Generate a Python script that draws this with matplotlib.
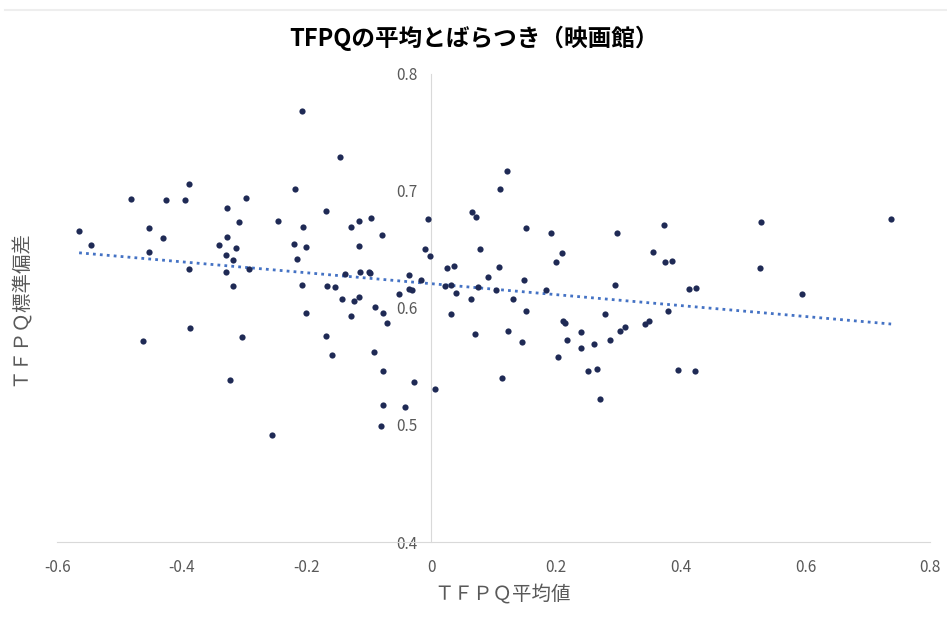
import numpy as np
import matplotlib
matplotlib.use("Agg")
import matplotlib.pyplot as plt
from matplotlib.lines import Line2D

plt.rcParams['font.family'] = ['Noto Sans CJK JP', 'DejaVu Sans']

# TFPQ mean (x) and TFPQ std (y)
tfpq_mean = [
  -0.565, -0.546, -0.482, -0.453, -0.453, -0.426, -0.430, -0.396, -0.389, -0.389,
  -0.388, -0.462, -0.328, -0.308, -0.328, -0.340, -0.314, -0.330, -0.318, -0.329,
  -0.318, -0.304, -0.323, -0.298, -0.293,
  -0.207, -0.146, -0.219, -0.246, -0.169, -0.206, -0.221, -0.201, -0.216, -0.129,
  -0.117, -0.097, -0.117, -0.079, -0.005, -0.010, -0.003, -0.208, -0.168, -0.154,
  -0.138, -0.115, -0.101, -0.099, -0.036, -0.017, -0.036, -0.031, -0.052, -0.143,
  -0.125, -0.117, -0.090, -0.077, -0.071, -0.202, -0.129, -0.169, -0.160, -0.092,
  -0.078, -0.028, 0.006, -0.078, -0.043, -0.081, -0.256,
  0.121, 0.110, 0.065, 0.071, 0.152, 0.192, 0.298, 0.078, 0.210, 0.199,
  0.025, 0.036, 0.108, 0.090, 0.149, 0.022, 0.032, 0.074, 0.040, 0.103,
  0.184, 0.063, 0.131, 0.294, 0.031, 0.151, 0.279, 0.211, 0.214, 0.070,
  0.122, 0.145, 0.218, 0.240, 0.311, 0.303, 0.287, 0.260, 0.240, 0.203,
  0.251, 0.266, 0.113, 0.270,
  0.373, 0.528, 0.737, 0.355, 0.375, 0.385, 0.527, 0.413, 0.424, 0.594,
  0.380, 0.342, 0.348, 0.396, 0.422,
]
tfpq_std = [
  0.666, 0.654, 0.693, 0.668, 0.648, 0.692, 0.660, 0.692, 0.706, 0.633,
  0.583, 0.572, 0.685, 0.673, 0.661, 0.654, 0.651, 0.645, 0.641, 0.631,
  0.619, 0.575, 0.538, 0.694, 0.633,
  0.768, 0.729, 0.702, 0.674, 0.683, 0.669, 0.655, 0.652, 0.642, 0.669,
  0.674, 0.677, 0.653, 0.662, 0.676, 0.650, 0.644, 0.620, 0.619, 0.618,
  0.629, 0.631, 0.631, 0.630, 0.628, 0.624, 0.616, 0.615, 0.612, 0.608,
  0.606, 0.609, 0.601, 0.596, 0.587, 0.596, 0.593, 0.576, 0.560, 0.562,
  0.546, 0.537, 0.531, 0.517, 0.515, 0.499, 0.491,
  0.717, 0.702, 0.682, 0.678, 0.668, 0.664, 0.664, 0.650, 0.647, 0.639,
  0.634, 0.636, 0.635, 0.626, 0.624, 0.619, 0.620, 0.618, 0.613, 0.615,
  0.615, 0.608, 0.608, 0.620, 0.595, 0.597, 0.595, 0.589, 0.587, 0.578,
  0.580, 0.571, 0.573, 0.579, 0.584, 0.580, 0.573, 0.569, 0.566, 0.558,
  0.546, 0.548, 0.540, 0.522,
  0.671, 0.673, 0.676, 0.648, 0.639, 0.640, 0.634, 0.616, 0.617, 0.612,
  0.597, 0.586, 0.589, 0.547, 0.546,
]

x_ticks = [-0.6, -0.4, -0.2, 0, 0.2, 0.4, 0.6, 0.8]
y_ticks = [0.4, 0.5, 0.6, 0.7, 0.8]

x = np.array(tfpq_mean)
y = np.array(tfpq_std)

fig = plt.figure(figsize=(9.47, 6.23), dpi=100)
ax = fig.add_axes([0.0605, 0.130, 0.922, 0.7515])

ax.scatter(x, y, s=20, color='#1f2a55', zorder=3, linewidths=0)

# linear trend line, like excel
slope, icpt = np.polyfit(x, y, 1)
xs = np.array([x.min(), x.max()])
ax.plot(xs, slope * xs + icpt, color='#4472c4', linestyle=(0, (1, 1.5)), linewidth=2, zorder=2)

ax.set_xlim(-0.6, 0.8)
ax.set_ylim(0.4, 0.8)
ax.set_xticks(x_ticks)
ax.set_yticks(y_ticks)
ax.set_xticklabels(['0' if v == 0 else f'{v:g}' for v in x_ticks])
ax.set_yticklabels([f'{v:g}' for v in y_ticks])

for s in ['top', 'right']:
  ax.spines[s].set_visible(False)
ax.spines['left'].set_position(('data', 0))
ax.spines['left'].set_color('#d9d9d9')
ax.spines['bottom'].set_color('#d9d9d9')
ax.tick_params(axis='both', length=0, labelsize=11, labelcolor='#595959')
ax.tick_params(axis='x', pad=12)
ax.tick_params(axis='y', pad=10)

ax.set_xlabel('ＴＦＰＱ平均値', fontsize=14, color='#595959')
ax.set_ylabel('ＴＦＰＱ標準偏差', fontsize=14, color='#595959')
ax.yaxis.set_label_coords(-0.03, 0.5)
ax.xaxis.set_label_coords(0.51, -0.09)

fig.text(0.5, 0.938, 'TFPQの平均とばらつき（映画館）', ha='center', va='center',
         fontsize=17, fontweight='bold', color='#000000')
fig.add_artist(Line2D([0.005, 1.0], [0.984, 0.984], color='#eeeeee', linewidth=1.5))

fig.savefig('out.png', dpi=100)
